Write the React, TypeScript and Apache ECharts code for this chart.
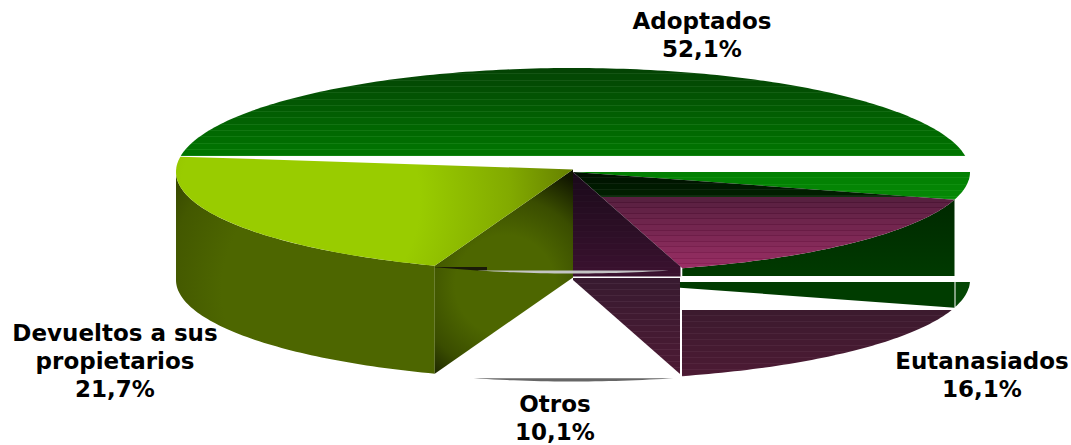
import React, { useEffect, useRef } from "react";
import * as echarts from "echarts";

const categories = ["Adoptados", "Eutanasiados", "Otros", "Devueltos a sus\npropietarios"];
const percentages = [52.1, 16.1, 10.1, 21.7];

type P = [number, number];
const START = 188.5;
const CX = 573, CY = 172, RX = 397, DEPTH = 108;
const rad = (d: number) => (d * Math.PI) / 180;

function arc(a0: number, a1: number, dy = 0, ryLow = 100, ryHigh = 104): P[] {
  const pts: P[] = [];
  const n = Math.max(2, Math.ceil(Math.abs(a1 - a0) / 1));
  for (let i = 0; i <= n; i++) {
    const a = rad(a0 + ((a1 - a0) * i) / n);
    const s = Math.sin(a);
    pts.push([CX + RX * Math.cos(a), CY + dy + (s < 0 ? ryHigh : ryLow) * s]);
  }
  return pts;
}
function sector(a0: number, a1: number, dy = 0, ryLow = 100, apexDy = 0): P[] {
  return [[CX, CY + dy + apexDy], ...arc(a0, a1, dy, ryLow)];
}
function wall(a0: number, a1: number): P[] {
  return [...arc(a0, a1), ...arc(a0, a1, DEPTH).reverse()];
}
function face(a: number, apexDy = 0): P[] {
  const e = arc(a, a)[0];
  return [[CX, CY + apexDy], e, [e[0], e[1] + DEPTH], [CX, CY + DEPTH + apexDy]];
}
type Box = { x0?: number; x1?: number; y0?: number; y1?: number };
function clipEdge(pts: P[], inside: (p: P) => boolean, cross: (a: P, b: P) => P): P[] {
  const out: P[] = [];
  pts.forEach((p, i) => {
    const q = pts[(i + 1) % pts.length];
    const a = inside(p), b = inside(q);
    if (a) out.push(p);
    if (a !== b) out.push(cross(p, q));
  });
  return out;
}
function clip(pts: P[], b: Box): P[] {
  let r = pts;
  const atX = (x: number) => (p: P, q: P): P => [x, p[1] + ((q[1] - p[1]) * (x - p[0])) / (q[0] - p[0])];
  const atY = (y: number) => (p: P, q: P): P => [p[0] + ((q[0] - p[0]) * (y - p[1])) / (q[1] - p[1]), y];
  if (b.x0 != null) r = clipEdge(r, (p) => p[0] >= b.x0!, atX(b.x0));
  if (b.x1 != null) r = clipEdge(r, (p) => p[0] <= b.x1!, atX(b.x1));
  if (b.y0 != null) r = clipEdge(r, (p) => p[1] >= b.y0!, atY(b.y0));
  if (b.y1 != null) r = clipEdge(r, (p) => p[1] <= b.y1!, atY(b.y1));
  return r;
}
const hex = (c: string) => [1, 3, 5].map((i) => parseInt(c.slice(i, i + 2), 16));
const mix = (a: string, b: string, t: number) => {
  const A = hex(a), B = hex(b);
  return `rgb(${A.map((v, i) => Math.round(v + (B[i] - v) * t)).join(",")})`;
};
function striped(y0: number, y1: number, c0: string, c1: string, period: number, lift: number) {
  const h = y1 - y0;
  const stops: { offset: number; color: string }[] = [];
  for (let y = y0; y < y1 - 0.01; y += period) {
    const t = (y - y0) / h;
    const base = mix(c0, c1, t);
    const end = Math.min(y + period, y1);
    const lineStart = Math.max(y, end - 1);
    const m = base.match(/\d+/g)!.map((v) => Math.max(0, Math.min(255, +v + lift)));
    stops.push({ offset: t, color: base });
    stops.push({ offset: (lineStart - y0) / h, color: base });
    stops.push({ offset: (lineStart - y0) / h, color: `rgb(${m.join(",")})` });
    stops.push({ offset: (end - y0) / h, color: `rgb(${m.join(",")})` });
  }
  return new echarts.graphic.LinearGradient(0, y0, 0, y1, stops, true);
}
const radial = (x: number, y: number, r: number, stops: [number, string][]) =>
  new echarts.graphic.RadialGradient(x, y, r, stops.map(([offset, color]) => ({ offset, color })), true);
const poly = (points: P[], fill: any, z2 = 0) => ({ type: "polygon", silent: true, z2, shape: { points }, style: { fill } });

function pieces(index: number, a0: number, a1: number) {
  if (index === 0) {
    return [
      poly(clip(sector(a0, a1), { y1: 156 }), striped(68, 156, "#044404", "#007800", 6.3, 16)),
      poly(clip(sector(a0, a1), { y0: 172 }), striped(172, 199, "#028002", "#068a06", 6.3, 12)),
      poly(clip(sector(a0, a1, DEPTH), { y0: 282, x0: 680, x1: 954.5 }), "#003c00"),
      poly(clip(sector(a0, a1, DEPTH), { y0: 282, x0: 955.5 }), "#044604"),
    ];
  }
  if (index === 1) {
    return [
      poly(clip(wall(a0, a1), { y1: 276, x0: 680 }), new echarts.graphic.LinearGradient(0, 198, 0, 276, [{ offset: 0, color: "#002800" }, { offset: 1, color: "#003a00" }], true)),
      poly(clip(sector(a0, a1), { y1: 197 }), striped(172, 197, "#001000", "#002400", 6, 14)),
      poly(clip(sector(a0, a1), { y0: 197 }), striped(197, 272, "#582040", "#a03068", 5.6, -10)),
      poly(clip(face(a1), { x1: 680.5, y1: 276.5 }), striped(172, 277, "#1a0a1a", "#3c1230", 6, 4)),
      poly(clip(face(a1), { x1: 680, y0: 278 }), striped(278, 378, "#381a30", "#4e1a34", 6, 12)),
      poly(clip(sector(a0, a1, DEPTH), { y0: 310, x0: 682 }), striped(310, 380, "#3c1a2e", "#4e1a34", 6, 10)),
    ];
  }
  if (index === 2) {
    return [
      poly(clip(sector(a0, a1, 0, 101.5), { y0: 267, y1: 270.5, x1: 487 }), "#1a1a08", 5),
      poly(clip(sector(a0, a1, 0, 101.5), { y0: 270.5 }), "#c4c4c4", 5),
      poly(clip(sector(a0, a1, DEPTH, 101.5), { y0: 378.2 }), "#666666", 5),
    ];
  }
  return [
    poly(wall(a0, 180), radial(340, 290, 215, [[0, "#4d6600"], [0.55, "#4d6600"], [0.8, "#435800"], [1, "#2e3d00"]])),
    poly(face(a0, -2.5), radial(505, 285, 125, [[0, "#4d6600"], [0.4, "#4d6600"], [0.7, "#3a4d00"], [1, "#111700"]])),
    poly(sector(a0, a1, 0, 100, -2.5), radial(300, 200, 300, [[0, "#99cc00"], [0.4, "#99cc00"], [0.7, "#82aa00"], [1, "#5a7000"]])),
  ];
}

const fmt = (v: number) => v.toFixed(1).replace(".", ",") + "%";
const labelAnchors: [number, number][] = [[702, 7], [982, 347], [555, 390], [115, 319]];

export default function App() {
  const ref = useRef<HTMLDivElement>(null);
  useEffect(() => {
    const chart = echarts.init(ref.current!, null, { renderer: "svg" });
    const total = percentages.reduce((a, b) => a + b, 0);
    chart.setOption({
      animation: false,
      backgroundColor: "#ffffff",
      series: [
        {
          type: "custom",
          coordinateSystem: "none",
          silent: true,
          data: percentages.map((v) => [v]),
          renderItem: (params: any) => {
            const i = params.dataIndex;
            const before = percentages.slice(0, i).reduce((a, b) => a + b, 0);
            const a0 = (START + (before / total) * 360) % 360;
            const a1 = a0 + (percentages[i] / total) * 360;
            return { type: "group", children: pieces(i, a0, a1) };
          },
        },
      ],
      graphic: categories.map((c, i) => ({
        type: "text",
        silent: true,
        x: labelAnchors[i][0],
        y: labelAnchors[i][1],
        z: 10,
        style: {
          text: `${c}\n${fmt(percentages[i])}`,
          fill: "#000000",
          font: 'bold 23px "DejaVu Sans"',
          lineHeight: 28,
          align: "center",
          verticalAlign: "top",
        },
      })),
    });
    return () => chart.dispose();
  }, []);
  return <div ref={ref} style={{ position: "fixed", left: 0, top: 0, width: 1071, height: 445 }} />;
}
